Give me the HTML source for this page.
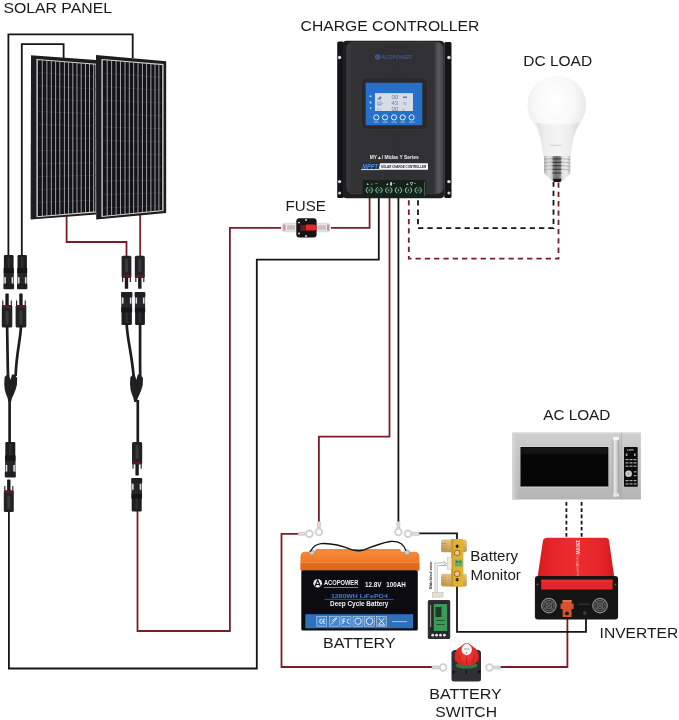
<!DOCTYPE html>
<html><head><meta charset="utf-8">
<style>
html,body{margin:0;padding:0;background:#fff;}
body{width:679px;height:720px;overflow:hidden;position:relative;font-family:"Liberation Sans",sans-serif;}
svg{position:absolute;left:0;top:0;display:block;will-change:transform;}
</style></head><body>
<svg width="679" height="720" viewBox="0 0 679 720">
<g fill="none" stroke-width="1.8" stroke-linejoin="miter">
  <path d="M8.4 256 V34.3 H132.7 V58" stroke="#151515"/>
  <path d="M21.8 256 V44.1 H63.6 V58" stroke="#151515"/>
  <path d="M66.6 216 V242 H126.5 V257" stroke="#781e26"/>
  <path d="M140.2 213 V257" stroke="#781e26"/>
  <path d="M8.9 510 V668.5 H256.8 V259.7 H378.8 V197" stroke="#151515"/>
  <path d="M137.5 510 V631 H229.9 V227.8 H281"  stroke="#781e26"/>
  <path d="M331 227.8 H369.6 V197" stroke="#781e26"/>
  <path d="M389.5 197 V436.7 H318.9 V522" stroke="#781e26"/>
  <path d="M398.4 197 V522" stroke="#151515"/>
  <path d="M298.5 533.8 H281.5 V667 H433" stroke="#781e26"/>
  <path d="M500 667 H567.4 V616" stroke="#781e26"/>
  <path d="M419 533.4 H457 V540" stroke="#151515"/>
  <path d="M457 584 V631.8 H586 V616" stroke="#151515"/>
  <path d="M418 200.3 V228.1 H553.5 V182" stroke="#151515" stroke-dasharray="5.3 4"/>
  <path d="M408.8 200.3 V258.7 H558.5 V182" stroke="#781e26" stroke-dasharray="5.3 4"/>
  <path d="M566.4 502.1 V537" stroke="#2a1214" stroke-dasharray="3.7 2.5"/>
  <path d="M581.6 502.1 V537" stroke="#111" stroke-dasharray="3.7 2.5"/>
</g>
<polygon points="31,55.2 96,60 96,214.5 30.6,219.4" fill="#1d1d1f"/>
<clipPath id="cp1"><polygon points="37,59.5 96,64.3 96,211.9 37,216.7"/></clipPath>
<polygon points="37,59.5 96,64.3 96,211.9 37,216.7" fill="#131317" stroke="#d4d4d4" stroke-width="1.1"/>
<g clip-path="url(#cp1)">
<line x1="37" y1="72.5" x2="96" y2="76.6" stroke="#34343a" stroke-width="0.6"/><line x1="37" y1="85.5" x2="96" y2="89.0" stroke="#34343a" stroke-width="0.6"/><line x1="37" y1="98.5" x2="96" y2="101.3" stroke="#34343a" stroke-width="0.6"/><line x1="37" y1="111.5" x2="96" y2="113.7" stroke="#34343a" stroke-width="0.6"/><line x1="37" y1="124.5" x2="96" y2="126.0" stroke="#34343a" stroke-width="0.6"/><line x1="37" y1="137.5" x2="96" y2="138.4" stroke="#34343a" stroke-width="0.6"/><line x1="37" y1="150.5" x2="96" y2="150.8" stroke="#34343a" stroke-width="0.6"/><line x1="37" y1="163.5" x2="96" y2="163.1" stroke="#34343a" stroke-width="0.6"/><line x1="37" y1="176.5" x2="96" y2="175.4" stroke="#34343a" stroke-width="0.6"/><line x1="37" y1="189.5" x2="96" y2="187.8" stroke="#34343a" stroke-width="0.6"/><line x1="37" y1="202.5" x2="96" y2="200.1" stroke="#34343a" stroke-width="0.6"/>
<g stroke="#b0b0b4" stroke-width="0.9"><line x1="37.5" y1="50" x2="37.5" y2="225"/><line x1="42.3" y1="50" x2="42.3" y2="225"/><line x1="46.9" y1="50" x2="46.9" y2="225"/><line x1="51.3" y1="50" x2="51.3" y2="225"/><line x1="55.6" y1="50" x2="55.6" y2="225"/><line x1="59.8" y1="50" x2="59.8" y2="225"/><line x1="64.4" y1="50" x2="64.4" y2="225"/><line x1="68.6" y1="50" x2="68.6" y2="225"/><line x1="72.8" y1="50" x2="72.8" y2="225"/><line x1="77.0" y1="50" x2="77.0" y2="225"/><line x1="81.2" y1="50" x2="81.2" y2="225"/><line x1="85.5" y1="50" x2="85.5" y2="225"/><line x1="89.5" y1="50" x2="89.5" y2="225"/><line x1="93.7" y1="50" x2="93.7" y2="225"/></g>
</g>

<polygon points="96,55 166.2,61.2 166.2,213 96.2,219.4" fill="#1d1d1f"/>
<clipPath id="cp2"><polygon points="102,59.5 163,64.6 163,210.5 102,216.5"/></clipPath>
<polygon points="102,59.5 163,64.6 163,210.5 102,216.5" fill="#131317" stroke="#d4d4d4" stroke-width="1.1"/>
<g clip-path="url(#cp2)">
<line x1="102" y1="73.0" x2="163" y2="77.4" stroke="#34343a" stroke-width="0.6"/><line x1="102" y1="86.5" x2="163" y2="90.2" stroke="#34343a" stroke-width="0.6"/><line x1="102" y1="100.0" x2="163" y2="103.1" stroke="#34343a" stroke-width="0.6"/><line x1="102" y1="113.5" x2="163" y2="115.9" stroke="#34343a" stroke-width="0.6"/><line x1="102" y1="127.0" x2="163" y2="128.7" stroke="#34343a" stroke-width="0.6"/><line x1="102" y1="140.5" x2="163" y2="141.6" stroke="#34343a" stroke-width="0.6"/><line x1="102" y1="154.0" x2="163" y2="154.4" stroke="#34343a" stroke-width="0.6"/><line x1="102" y1="167.5" x2="163" y2="167.2" stroke="#34343a" stroke-width="0.6"/><line x1="102" y1="181.0" x2="163" y2="180.0" stroke="#34343a" stroke-width="0.6"/><line x1="102" y1="194.5" x2="163" y2="192.8" stroke="#34343a" stroke-width="0.6"/><line x1="102" y1="208.0" x2="163" y2="205.7" stroke="#34343a" stroke-width="0.6"/>
<g stroke="#b0b0b4" stroke-width="0.9"><line x1="102.4" y1="50" x2="102.4" y2="225"/><line x1="107.2" y1="50" x2="107.2" y2="225"/><line x1="111.6" y1="50" x2="111.6" y2="225"/><line x1="116.1" y1="50" x2="116.1" y2="225"/><line x1="120.5" y1="50" x2="120.5" y2="225"/><line x1="125.0" y1="50" x2="125.0" y2="225"/><line x1="129.3" y1="50" x2="129.3" y2="225"/><line x1="133.7" y1="50" x2="133.7" y2="225"/><line x1="138.0" y1="50" x2="138.0" y2="225"/><line x1="142.4" y1="50" x2="142.4" y2="225"/><line x1="146.6" y1="50" x2="146.6" y2="225"/><line x1="150.9" y1="50" x2="150.9" y2="225"/><line x1="155.0" y1="50" x2="155.0" y2="225"/><line x1="158.9" y1="50" x2="158.9" y2="225"/><line x1="162.5" y1="50" x2="162.5" y2="225"/></g>
</g>

<g><rect x="3.90" y="255.00" width="9.70" height="19.61" rx="1.2" fill="#1d1d1f"/><rect x="7.55" y="257.00" width="2.4" height="15.09" fill="#2e2e30"/><rect x="3.60" y="268.08" width="10.30" height="5.03" fill="#151517"/><rect x="3.70" y="273.11" width="10.10" height="11.06" fill="#262628"/><rect x="4.30" y="277.13" width="1.6" height="6.54" fill="#dcdcdc"/><rect x="11.60" y="277.13" width="1.6" height="6.54" fill="#dcdcdc"/><rect x="3.40" y="283.67" width="10.70" height="5.53" rx="1" fill="#1f1f21"/><rect x="17.50" y="255.00" width="9.40" height="19.61" rx="1.2" fill="#1d1d1f"/><rect x="21.00" y="257.00" width="2.4" height="15.09" fill="#2e2e30"/><rect x="17.20" y="268.08" width="10.00" height="5.03" fill="#151517"/><rect x="17.30" y="273.11" width="9.80" height="11.06" fill="#262628"/><rect x="17.90" y="277.13" width="1.6" height="6.54" fill="#dcdcdc"/><rect x="24.90" y="277.13" width="1.6" height="6.54" fill="#dcdcdc"/><rect x="17.00" y="283.67" width="10.40" height="5.53" rx="1" fill="#1f1f21"/><rect x="5.35" y="293.50" width="3.4" height="13.00" rx="0.6" fill="#1b1b1d"/><rect x="2.20" y="300.50" width="1.2" height="7.00" fill="#2a2a2a"/><rect x="10.70" y="300.50" width="1.2" height="7.00" fill="#2a2a2a"/><rect x="1.80" y="305.00" width="10.50" height="22.50" rx="1.5" fill="#222224"/><rect x="2.60" y="305.00" width="8.90" height="3.00" fill="#5a1a28"/><rect x="5.55" y="310.50" width="3" height="14.00" fill="#39393b"/><rect x="19.25" y="293.50" width="3.4" height="13.00" rx="0.6" fill="#1b1b1d"/><rect x="16.00" y="300.50" width="1.2" height="7.00" fill="#2a2a2a"/><rect x="24.70" y="300.50" width="1.2" height="7.00" fill="#2a2a2a"/><rect x="15.60" y="305.00" width="10.70" height="22.50" rx="1.5" fill="#222224"/><rect x="16.40" y="305.00" width="9.10" height="3.00" fill="#5a1a28"/><rect x="19.45" y="310.50" width="3" height="14.00" fill="#39393b"/><g transform="translate(0,544.6) scale(1,-1)"><rect x="124.80" y="255.80" width="3.4" height="12.62" rx="0.6" fill="#1b1b1d"/><rect x="122.00" y="262.59" width="1.2" height="6.79" fill="#2a2a2a"/><rect x="129.80" y="262.59" width="1.2" height="6.79" fill="#2a2a2a"/><rect x="121.60" y="266.96" width="9.80" height="21.84" rx="1.5" fill="#222224"/><rect x="122.40" y="266.96" width="8.20" height="2.91" fill="#5a1a28"/><rect x="125.00" y="272.30" width="3" height="13.59" fill="#39393b"/></g><g transform="translate(0,544.6) scale(1,-1)"><rect x="138.10" y="255.80" width="3.4" height="12.62" rx="0.6" fill="#1b1b1d"/><rect x="135.20" y="262.59" width="1.2" height="6.79" fill="#2a2a2a"/><rect x="143.20" y="262.59" width="1.2" height="6.79" fill="#2a2a2a"/><rect x="134.80" y="266.96" width="10.00" height="21.84" rx="1.5" fill="#222224"/><rect x="135.60" y="266.96" width="8.40" height="2.91" fill="#5a1a28"/><rect x="138.30" y="272.30" width="3" height="13.59" fill="#39393b"/></g><g transform="translate(0,617) scale(1,-1)"><rect x="121.50" y="292.00" width="10.40" height="18.93" rx="1.2" fill="#1d1d1f"/><rect x="125.50" y="294.00" width="2.4" height="14.56" fill="#2e2e30"/><rect x="121.20" y="304.62" width="11.00" height="4.85" fill="#151517"/><rect x="121.30" y="309.47" width="10.80" height="10.68" fill="#262628"/><rect x="121.90" y="313.35" width="1.6" height="6.31" fill="#dcdcdc"/><rect x="129.90" y="313.35" width="1.6" height="6.31" fill="#dcdcdc"/><rect x="121.00" y="319.66" width="11.40" height="5.34" rx="1" fill="#1f1f21"/></g><g transform="translate(0,617) scale(1,-1)"><rect x="135.10" y="292.00" width="9.80" height="18.93" rx="1.2" fill="#1d1d1f"/><rect x="138.80" y="294.00" width="2.4" height="14.56" fill="#2e2e30"/><rect x="134.80" y="304.62" width="10.40" height="4.85" fill="#151517"/><rect x="134.90" y="309.47" width="10.20" height="10.68" fill="#262628"/><rect x="135.50" y="313.35" width="1.6" height="6.31" fill="#dcdcdc"/><rect x="142.90" y="313.35" width="1.6" height="6.31" fill="#dcdcdc"/><rect x="134.60" y="319.66" width="10.80" height="5.34" rx="1" fill="#1f1f21"/></g></g>
<g fill="none" stroke="#1c1c1e" stroke-width="2.7">
<path d="M7.1 326 C7.3 345 7.6 360 8 376"/><path d="M21 326 C20.5 340 16.5 352 15.6 376"/>
<path d="M9.6 400 V443"/>
<path d="M126.7 324 C127.3 340 131.5 352 133.6 376"/><path d="M140.1 324 C140.1 345 140 362 140.2 376"/>
<path d="M137.8 400 V443"/>
</g>
<g fill="#202022">
<path d="M4.6 377 L7.2 374.5 L9 374.5 L10.5 380 L12 374.5 L14.5 374.5 L17.2 378 Q17.5 385 15.5 390 Q13.5 395 12 398 L11 402 H8.4 L7.6 398 Q5.8 394 4.8 390 Q3.8 384 4.6 377Z"/>
<path d="M130.4 377 L133.0 374.5 L134.8 374.5 L136.3 380 L137.8 374.5 L140.3 374.5 L143.0 378 Q143.3 385 141.3 390 Q139.3 395 137.8 398 L136.8 402 H134.2 L133.4 398 Q131.6 394 130.6 390 Q129.6 384 130.4 377Z"/>
</g>
<g><rect x="5.30" y="441.90" width="10.00" height="20.42" rx="1.2" fill="#1d1d1f"/><rect x="9.10" y="443.90" width="2.4" height="15.71" fill="#2e2e30"/><rect x="5.00" y="455.51" width="10.60" height="5.24" fill="#151517"/><rect x="5.10" y="460.75" width="10.40" height="11.52" fill="#262628"/><rect x="5.70" y="464.94" width="1.6" height="6.81" fill="#dcdcdc"/><rect x="13.30" y="464.94" width="1.6" height="6.81" fill="#dcdcdc"/><rect x="4.80" y="471.74" width="11.00" height="5.76" rx="1" fill="#1f1f21"/><rect x="7.10" y="479.40" width="3.4" height="12.46" rx="0.6" fill="#1b1b1d"/><rect x="4.20" y="486.11" width="1.2" height="6.71" fill="#2a2a2a"/><rect x="12.20" y="486.11" width="1.2" height="6.71" fill="#2a2a2a"/><rect x="3.80" y="490.43" width="10.00" height="21.57" rx="1.5" fill="#222224"/><rect x="4.60" y="490.43" width="8.40" height="2.88" fill="#5a1a28"/><rect x="7.30" y="495.70" width="3" height="13.42" fill="#39393b"/><g transform="translate(0,917.6) scale(1,-1)"><rect x="135.40" y="442.00" width="3.4" height="12.85" rx="0.6" fill="#1b1b1d"/><rect x="132.40" y="448.92" width="1.2" height="6.92" fill="#2a2a2a"/><rect x="140.60" y="448.92" width="1.2" height="6.92" fill="#2a2a2a"/><rect x="132.00" y="453.36" width="10.20" height="22.24" rx="1.5" fill="#222224"/><rect x="132.80" y="453.36" width="8.60" height="2.96" fill="#5a1a28"/><rect x="135.60" y="458.80" width="3" height="13.84" fill="#39393b"/></g><g transform="translate(0,989.5) scale(1,-1)"><rect x="131.70" y="478.00" width="10.00" height="19.21" rx="1.2" fill="#1d1d1f"/><rect x="135.50" y="480.00" width="2.4" height="14.78" fill="#2e2e30"/><rect x="131.40" y="490.81" width="10.60" height="4.93" fill="#151517"/><rect x="131.50" y="495.74" width="10.40" height="10.84" fill="#262628"/><rect x="132.10" y="499.68" width="1.6" height="6.40" fill="#dcdcdc"/><rect x="139.70" y="499.68" width="1.6" height="6.40" fill="#dcdcdc"/><rect x="131.20" y="506.08" width="11.00" height="5.42" rx="1" fill="#1f1f21"/></g></g>
<g>
<defs>
<linearGradient id="ccface" x1="0" y1="0" x2="1" y2="0">
<stop offset="0" stop-color="#3a3a3c"/><stop offset="0.06" stop-color="#333335"/><stop offset="0.5" stop-color="#303032"/><stop offset="0.9" stop-color="#323234"/><stop offset="0.95" stop-color="#5a5a5c"/><stop offset="1" stop-color="#444446"/>
</linearGradient>
</defs>
<rect x="337.2" y="41.6" width="6.6" height="156.4" rx="1.5" fill="#141416"/>
<rect x="444.2" y="41.9" width="7.3" height="156" rx="1.5" fill="#141416"/>
<circle cx="339.6" cy="57.5" r="1.7" fill="#d8d8d8"/><circle cx="448.9" cy="57.5" r="1.7" fill="#d8d8d8"/>
<circle cx="339.6" cy="181.6" r="1.7" fill="#d8d8d8"/><circle cx="448.9" cy="181.6" r="1.7" fill="#d8d8d8"/>
<circle cx="339.6" cy="193.1" r="1.5" fill="#d0d0d0"/><circle cx="448.9" cy="193.1" r="1.5" fill="#d0d0d0"/>
<rect x="342.6" y="40.7" width="101.6" height="157.6" rx="4" fill="#1e1e20"/>
<rect x="346.8" y="42.3" width="96.4" height="151.5" rx="6" fill="url(#ccface)" stroke="#48484a" stroke-width="0.6"/>
<circle cx="377.6" cy="56.9" r="2.6" fill="#3a66b8"/><path d="M376.3 58.6 L377.6 55.2 L378.9 58.6" stroke="#2e2e30" stroke-width="0.7" fill="none"/><text x="381.5" y="59" font-family="Liberation Sans" font-size="5.4" fill="#3a66b8" textLength="30.4" lengthAdjust="spacingAndGlyphs">ACOPOWER</text>
<rect x="361.3" y="77.3" width="66.4" height="52.3" rx="6" fill="#29292b" stroke="#3e3e40" stroke-width="0.6"/>
<rect x="365.6" y="82.7" width="56.7" height="42.5" rx="0.8" fill="#2571c9"/>
<rect x="374.9" y="93.1" width="38.1" height="17.9" fill="#d6dbe6"/>
<g fill="#6a78a8" font-family="Liberation Sans" font-size="5.2">
<text x="376.5" y="98.5">&#9698;-</text><text x="376.5" y="104.8">&#9636;-</text><text x="376.5" y="110.6">&#9675;-</text>
<text x="391.5" y="98.7" font-size="6">00</text><text x="391.5" y="105" font-size="6">43</text><text x="391.5" y="110.9" font-size="6">00</text>
<rect x="403" y="96.5" width="4" height="1.5"/><text x="403" y="105" font-size="4">%</text><text x="402.5" y="110.5" font-size="4">v</text>
</g>
<g fill="none" stroke="#f2f6ff" stroke-width="0.95">
<circle cx="376.3" cy="117.4" r="2.6"/><circle cx="385" cy="117.4" r="2.6"/><circle cx="394" cy="117.4" r="2.6"/><circle cx="402.7" cy="117.4" r="2.6"/><circle cx="411.6" cy="117.4" r="2.6"/>
</g>
<g fill="#c0d2f0"><rect x="374" y="121.7" width="4.5" height="0.7"/><rect x="382.5" y="121.7" width="5.5" height="0.7"/><rect x="391.5" y="121.7" width="5.5" height="0.7"/><rect x="400.5" y="121.7" width="4.5" height="0.7"/><rect x="409" y="121.7" width="5.5" height="0.7"/>
<rect x="369.5" y="95.5" width="2" height="1.5"/><rect x="369.5" y="101.5" width="2" height="2"/><path d="M369.3 107.5 h2.6 l-1.3 2z"/></g>
<text x="369.7" y="159.2" font-family="Liberation Sans" font-size="4.6" font-weight="bold" fill="#ececec" textLength="49" lengthAdjust="spacingAndGlyphs">MY&#9650;/ Midas Y Series</text>
<polygon points="361.8,163.3 379.5,163.3 378.7,169.1 361.2,169.1" fill="#1b2f52"/>
<text x="362.3" y="168.7" font-family="Liberation Sans" font-size="6.4" font-weight="bold" font-style="italic" fill="#4f8fe0" textLength="15.8" lengthAdjust="spacingAndGlyphs">MPPT</text>
<rect x="361.2" y="169.1" width="17.8" height="1" fill="#dfe6f2"/>
<polygon points="380,163.3 428,163.3 428,169.7 378.7,169.7" fill="#f6f6f6"/>
<text x="381" y="167.9" font-family="Liberation Sans" font-size="3.5" font-weight="bold" fill="#1a1a1a" textLength="45" lengthAdjust="spacingAndGlyphs">SOLAR CHARGE CONTROLLER</text>
<rect x="362.7" y="180" width="63" height="18" rx="2" fill="#13231a"/><rect x="424.2" y="182" width="0.8" height="14" fill="#5a6a60"/>
<g fill="#e4e4e4" font-family="Liberation Sans" font-size="4.2" font-weight="bold">
<text x="366.6" y="185.2">+ &#9788; &#8211;</text><text x="386" y="185.2">+ &#9646; &#8211;</text><text x="406" y="185.2">+ &#9661; &#8211;</text>
</g>
<g fill="#1c3526"><circle cx="369.3" cy="190.2" r="3.2"/><circle cx="379" cy="190.2" r="3.2"/><circle cx="388.8" cy="190.2" r="3.2"/><circle cx="398.5" cy="190.2" r="3.2"/><circle cx="408.5" cy="190.2" r="3.2"/><circle cx="418.2" cy="190.2" r="3.2"/></g>
<g fill="none" stroke="#8fc0a2" stroke-width="1"><path d="M368.0 187.4 A3 3 0 0 0 368.0 193 M370.6 187.4 A3 3 0 0 1 370.6 193"/><path d="M377.7 187.4 A3 3 0 0 0 377.7 193 M380.3 187.4 A3 3 0 0 1 380.3 193"/><path d="M387.5 187.4 A3 3 0 0 0 387.5 193 M390.1 187.4 A3 3 0 0 1 390.1 193"/><path d="M397.2 187.4 A3 3 0 0 0 397.2 193 M399.8 187.4 A3 3 0 0 1 399.8 193"/><path d="M407.2 187.4 A3 3 0 0 0 407.2 193 M409.8 187.4 A3 3 0 0 1 409.8 193"/><path d="M416.9 187.4 A3 3 0 0 0 416.9 193 M419.5 187.4 A3 3 0 0 1 419.5 193"/></g>
<g fill="#c0e0cc"><circle cx="369.3" cy="190.2" r="0.6"/><circle cx="379" cy="190.2" r="0.6"/><circle cx="388.8" cy="190.2" r="0.6"/><circle cx="398.5" cy="190.2" r="0.6"/><circle cx="408.5" cy="190.2" r="0.6"/><circle cx="418.2" cy="190.2" r="0.6"/></g>
</g>
<g>
<rect x="282.2" y="223.2" width="15" height="8.6" rx="2.5" fill="#ebe6e7" stroke="#c9bfc2" stroke-width="0.5"/>
<rect x="315.8" y="223.2" width="14.2" height="8.6" rx="2.5" fill="#ebe6e7" stroke="#c9bfc2" stroke-width="0.5"/>
<rect x="283.2" y="224.5" width="2.2" height="6" fill="#c98f99"/><rect x="327" y="224.5" width="2.2" height="6" fill="#c98f99"/>
<rect x="287" y="225.2" width="8" height="4.6" fill="#b9b0b2" opacity="0.7"/>
<rect x="318" y="225.2" width="8" height="4.6" fill="#b9b0b2" opacity="0.7"/>
<rect x="296.3" y="218.2" width="20.3" height="19.4" rx="3" fill="#151515"/>
<path d="M300.5 225 H306 V231 H300.5Z" fill="#6a1a1e"/>
<path d="M306 224.4 h7 q4 0 4 3.1 q0 3.1 -4 3.1 h-7z" fill="#e22a2c"/>
<circle cx="299" cy="222.6" r="0.9" fill="#eee"/><circle cx="306" cy="220" r="0.9" fill="#eee"/>
<circle cx="299" cy="233.5" r="0.9" fill="#eee"/><circle cx="306" cy="236" r="0.9" fill="#eee"/>
</g>
<g>
<defs>
<radialGradient id="bulbg" cx="0.46" cy="0.32" r="0.62">
<stop offset="0" stop-color="#ffffff"/><stop offset="0.55" stop-color="#f8f8f8"/><stop offset="0.85" stop-color="#ebebeb"/><stop offset="1" stop-color="#d9d9db"/>
</radialGradient>
<linearGradient id="neckg" x1="0" y1="0" x2="1" y2="0">
<stop offset="0" stop-color="#dcdcdc"/><stop offset="0.2" stop-color="#eeeeee"/><stop offset="0.5" stop-color="#f4f4f4"/><stop offset="0.8" stop-color="#ececec"/><stop offset="1" stop-color="#d6d6d6"/>
</linearGradient>
<linearGradient id="screwg" x1="0" y1="0" x2="1" y2="0">
<stop offset="0" stop-color="#b4b4b4"/><stop offset="0.18" stop-color="#e6e6e6"/><stop offset="0.3" stop-color="#d0d0d0"/><stop offset="0.36" stop-color="#8a8a8a"/><stop offset="0.46" stop-color="#707070"/><stop offset="0.62" stop-color="#8a8a8a"/><stop offset="0.68" stop-color="#dedede"/><stop offset="0.85" stop-color="#eeeeee"/><stop offset="1" stop-color="#bcbcbc"/>
</linearGradient>
</defs>
<path d="M543.3 156 C542.5 141 537.5 129 531.3 119.5 A29.3 29.3 0 1 1 582.2 119.5 C576 129 571.2 141 570.8 156 Z" fill="url(#bulbg)"/>
<path d="M536 122.7 C550 125.5 566 125.5 579.8 122.7 C575 131 571.2 142 570.8 156 L543.3 156 C542.5 142 540 131 536 122.7Z" fill="url(#neckg)"/>
<rect x="549.5" y="144.8" width="12" height="0.9" fill="#cdcdcd"/>
<path d="M544 156 H570.3 V173 Q566 178.5 562 181.5 H553.2 Q549 178.5 544 173 Z" fill="url(#screwg)"/>
<g stroke="#2a2a2a" stroke-width="1.1" opacity="0.85">
<line x1="552.5" y1="158.9" x2="561.5" y2="158.9"/><line x1="552.5" y1="162.3" x2="561.5" y2="162.3"/><line x1="552.5" y1="165.8" x2="561.5" y2="165.8"/><line x1="552.5" y1="169.3" x2="561.5" y2="169.3"/><line x1="552.5" y1="173" x2="561.5" y2="173"/>
</g>
<g stroke="#9a9a9a" stroke-width="0.8" opacity="0.8">
<line x1="544" y1="159.3" x2="552" y2="158.6"/><line x1="544" y1="162.8" x2="552" y2="162"/><line x1="544" y1="166.3" x2="552" y2="165.5"/><line x1="544" y1="169.8" x2="552" y2="169"/>
<line x1="562" y1="158.6" x2="570.3" y2="159.6"/><line x1="562" y1="162" x2="570.3" y2="163"/><line x1="562" y1="165.5" x2="570.3" y2="166.5"/><line x1="562" y1="169" x2="570.3" y2="170"/>
</g>
<path d="M553 178.8 H561.5 L560.5 182 H554Z" fill="#161616"/>
</g>
<g>
<defs>
<linearGradient id="mwg" x1="0" y1="0" x2="0" y2="1">
<stop offset="0" stop-color="#d0d0d0"/><stop offset="0.25" stop-color="#c6c6c6"/><stop offset="0.75" stop-color="#bcbcbc"/><stop offset="1" stop-color="#b4b4b4"/>
</linearGradient>
<linearGradient id="mwl" x1="0" y1="0" x2="1" y2="0">
<stop offset="0" stop-color="#dadada"/><stop offset="1" stop-color="#c2c2c2" stop-opacity="0"/>
</linearGradient>
<linearGradient id="mwh" x1="0" y1="0" x2="1" y2="0">
<stop offset="0" stop-color="#a0a0a0"/><stop offset="0.25" stop-color="#e8e8e8"/><stop offset="0.6" stop-color="#d2d2d2"/><stop offset="1" stop-color="#9a9a9a"/>
</linearGradient>
</defs>
<rect x="512" y="432.5" width="128.9" height="67" fill="url(#mwg)"/>
<rect x="512" y="432.5" width="8" height="67" fill="url(#mwl)"/>
<rect x="512" y="432.5" width="128.9" height="0.8" fill="#e0e0e0"/>
<rect x="519.5" y="446" width="89.8" height="0.9" fill="#ececec"/>
<rect x="520.5" y="446.9" width="87.8" height="39.8" fill="#060607"/>
<rect x="521.3" y="447.6" width="86.2" height="6.5" fill="#141416"/>
<rect x="520.5" y="486.7" width="87.8" height="0.8" fill="#d6d6d6"/>
<rect x="612.6" y="437" width="6.7" height="59.4" rx="1" fill="url(#mwh)"/>
<rect x="612.9" y="437" width="6.1" height="3.2" fill="#f6f6f6"/>
<rect x="612.9" y="493.5" width="6.1" height="2.9" fill="#e6e6e6"/>
<line x1="621.3" y1="432.5" x2="621.3" y2="499.5" stroke="#a4a4a4" stroke-width="0.6"/>
<rect x="624" y="447" width="13.7" height="39.8" rx="0.8" fill="#0c0c0c"/>
<g fill="#a8a8a8">
<rect x="628.5" y="449.3" width="5" height="1.2"/><rect x="627" y="449.6" width="1" height="1" fill="#ddd"/>
<rect x="625.8" y="453.5" width="1.6" height="2.5"/><rect x="634" y="453.5" width="1.6" height="2.5"/>
<rect x="625.5" y="459" width="3" height="1.2"/><rect x="629.5" y="459" width="3" height="1.2"/><rect x="633.5" y="459" width="3" height="1.2"/>
<rect x="625.5" y="462.3" width="3" height="1.2"/><rect x="629.5" y="462.3" width="3" height="1.2"/><rect x="633.5" y="462.3" width="3" height="1.2"/>
<rect x="625.5" y="465.6" width="3" height="1.2"/><rect x="629.5" y="465.6" width="3" height="1.2"/><rect x="633.5" y="465.6" width="3" height="1.2"/>
<rect x="633.8" y="471.2" width="2.6" height="1.2"/><rect x="633.8" y="475" width="2.6" height="1.2"/>
<rect x="625.5" y="480" width="3" height="1.2"/><rect x="629.5" y="480" width="3" height="1.2"/><rect x="633.5" y="480" width="3" height="1.2"/>
<rect x="625.5" y="483.3" width="3" height="1.2"/><rect x="629.5" y="483.3" width="3" height="1.2"/><rect x="633.5" y="483.3" width="3" height="1.2"/>
</g>
<circle cx="628.6" cy="473.8" r="3.3" fill="#cfcfcf"/><circle cx="628.6" cy="473.8" r="1.8" fill="#b4b4b4"/>
</g>
<g>
<defs>
<linearGradient id="invt" x1="0" y1="0" x2="1" y2="0">
<stop offset="0" stop-color="#d41c20"/><stop offset="0.15" stop-color="#e42428"/><stop offset="0.5" stop-color="#ee2c2e"/><stop offset="0.85" stop-color="#e42428"/><stop offset="1" stop-color="#cc1a1e"/>
</linearGradient>
<radialGradient id="fang" cx="0.5" cy="0.5" r="0.5">
<stop offset="0" stop-color="#3a3a3a"/><stop offset="0.8" stop-color="#2a2a2a"/><stop offset="1" stop-color="#555"/>
</radialGradient>
</defs>
<path d="M547.5 537.7 H605.5 Q608.4 537.7 609 540.5 L614.2 576.5 H537.6 L543 540.5 Q543.8 537.7 547.5 537.7Z" fill="url(#invt)"/>
<g transform="translate(576.2,540) rotate(90)">
<text x="0" y="0" font-family="Liberation Sans" font-size="4.6" font-weight="bold" fill="#f6e6e6">1500W</text>
<text x="13" y="-0.3" font-family="Liberation Sans" font-size="2.6" fill="#f0c8c8" textLength="23" lengthAdjust="spacingAndGlyphs">PURE SINE WAVE INVERTER</text>
</g>
<rect x="534.9" y="576" width="83.2" height="43.5" rx="3" fill="#151515"/>
<rect x="540" y="578.8" width="73.6" height="11.5" rx="0.8" fill="#2a0e0e"/>
<rect x="541.2" y="579.7" width="71.4" height="9.8" fill="#e4262b"/>
<rect x="541.2" y="579.7" width="71.4" height="2" fill="#f03a3a" opacity="0.6"/>
<circle cx="537.5" cy="584.5" r="0.9" fill="#666"/><circle cx="615.5" cy="584.5" r="0.9" fill="#666"/>
<g fill="url(#fang)" stroke="#a8a8a8" stroke-width="0.9">
<circle cx="548.9" cy="605.6" r="7.3"/><circle cx="600" cy="605.6" r="7.3"/>
</g>
<g fill="none" stroke="#8c8c8c" stroke-width="0.6">
<circle cx="548.9" cy="605.6" r="5.2"/><circle cx="600" cy="605.6" r="5.2"/>
<circle cx="548.9" cy="605.6" r="3"/><circle cx="600" cy="605.6" r="3"/>
<path d="M544 600.7 L553.8 610.5 M544 610.5 L553.8 600.7 M595.1 600.7 L604.9 610.5 M595.1 610.5 L604.9 600.7"/>
</g>
<path d="M562.6 600 H571.6 V603.5 H573.6 V609 H571.6 V617 H562.6 V609 H560.6 V603.5 H562.6Z" fill="#d4532f"/>
<rect x="562.6" y="600" width="9" height="2" fill="#e0704a"/>
<circle cx="567" cy="613.4" r="1.9" fill="#2a1408"/>
<rect x="578.5" y="603.5" width="11" height="1.6" fill="#333"/>
<rect x="583" y="611" width="3.5" height="4" fill="#2c2c2c"/>
<circle cx="584.6" cy="613.3" r="0.9" fill="#555"/>
</g>
<g>
<defs>
<linearGradient id="batg" x1="0" y1="0" x2="0" y2="1">
<stop offset="0" stop-color="#f58a3c"/><stop offset="0.5" stop-color="#f07a2a"/><stop offset="1" stop-color="#e86f22"/>
</linearGradient>
</defs>
<path d="M314 553 L316 548.9 H400 L402 553Z" fill="#f4863a"/>
<path d="M300.5 570.5 V556 Q301 551.8 305 551.8 H415 Q418.5 551.8 419.3 556 V570.5Z" fill="url(#batg)"/>
<rect x="300.7" y="562.3" width="118.7" height="8" fill="#e2681c"/>
<rect x="300.7" y="562.3" width="118.7" height="0.8" fill="#f39050"/>
<circle cx="311.8" cy="552.4" r="2.6" fill="#cfcfcf" stroke="#777" stroke-width="0.5"/><circle cx="407" cy="552.4" r="2.6" fill="#cfcfcf" stroke="#777" stroke-width="0.5"/>
<path d="M310.3 551.8 C313 546 316 544.2 321 543.6 C330 543 340 545 352.4 549.9 C357 551 361 551 364 549.9 C371 547 381 543 390 541.5 C398 540.8 404 544 406 550.8" fill="none" stroke="#141414" stroke-width="1.3"/>
<rect x="301.3" y="570.2" width="116.5" height="60.3" rx="1.5" fill="#0c0c10"/>
<circle cx="317.7" cy="583.3" r="4.3" fill="#eeeeee"/>
<path d="M315 586.5 L317.7 579.8 L320.4 586.5 M316 584.5 H319.4" stroke="#111" stroke-width="1.2" fill="none"/>
<text x="323.9" y="585.2" font-family="Liberation Sans" font-size="6.6" font-weight="bold" fill="#f2f2f2" textLength="34.4" lengthAdjust="spacingAndGlyphs">ACOPOWER</text>
<rect x="324" y="587" width="34.3" height="0.8" fill="#9a9a9a"/>
<text x="365" y="587" font-family="Liberation Sans" font-size="7.8" font-weight="bold" fill="#f4f4f4" textLength="16.5" lengthAdjust="spacingAndGlyphs">12.8V</text><text x="386.3" y="587" font-family="Liberation Sans" font-size="7.8" font-weight="bold" fill="#f4f4f4" textLength="19.4" lengthAdjust="spacingAndGlyphs">100AH</text>
<text x="330.9" y="598.4" font-family="Liberation Sans" font-size="6.2" font-weight="bold" fill="#3f80d4" textLength="56.9" lengthAdjust="spacingAndGlyphs">1280WH LiFePO4</text>
<rect x="324.7" y="598.9" width="69" height="0.7" fill="#3a78c8"/>
<text x="330" y="605.5" font-family="Liberation Sans" font-size="7" font-weight="bold" fill="#f4f4f4" textLength="58.4" lengthAdjust="spacingAndGlyphs">Deep Cycle Battery</text>
<rect x="305.3" y="614.2" width="107.8" height="14.1" fill="#2f70bb"/>
<g fill="#4387d0" stroke="#dfe9f6" stroke-width="0.5">
<rect x="316.8" y="616.3" width="10" height="9.9"/><rect x="329.2" y="616.3" width="10" height="9.9"/><rect x="341" y="616.3" width="10" height="9.9"/>
<rect x="353" y="616.3" width="10" height="9.9"/><rect x="364.5" y="616.3" width="10" height="9.9"/><rect x="376.4" y="616.3" width="10" height="9.9"/>
</g>
<g fill="none" stroke="#f2f6fc" stroke-width="0.9">
<path d="M322 619 a2.3 2.3 0 1 0 0 4.6 M325 619 a2.3 2.3 0 1 0 0 4.6 M322.7 621.3 h2"/>
<path d="M331 624.5 L337 618 M332 621 q3 -3 5 -3"/>
<path d="M345.5 619 h-2.5 v5 M343 621.3 h2 M349.5 619 a2.3 2.3 0 1 0 0 4.6"/>
<circle cx="358" cy="621.2" r="3.2"/>
<circle cx="369.5" cy="621.2" r="3.4"/>
<path d="M378.5 618 l6 6.5 M384.5 618 l-6 6.5 M378.5 625 h6"/>
</g>
<rect x="392" y="621.3" width="15" height="0.8" fill="#c6d6ee"/>
</g>
<g><rect x="317.4" y="521.5" width="3" height="6.5" rx="0.6" fill="#dedede" stroke="#9a9a9a" stroke-width="0.4"/><circle cx="318.9" cy="532" r="3.3" fill="none" stroke="#d0d0d0" stroke-width="1.8"/><rect x="298.2" y="532.3" width="7" height="3" rx="0.6" fill="#dedede" stroke="#9a9a9a" stroke-width="0.4"/><circle cx="309.4" cy="533.8" r="3.3" fill="none" stroke="#d0d0d0" stroke-width="1.8"/><rect x="396.9" y="521.5" width="3" height="6.5" rx="0.6" fill="#dedede" stroke="#9a9a9a" stroke-width="0.4"/><circle cx="398.4" cy="532" r="3.3" fill="none" stroke="#d0d0d0" stroke-width="1.8"/><rect x="412.2" y="532.3" width="7" height="3" rx="0.6" fill="#dedede" stroke="#9a9a9a" stroke-width="0.4"/><circle cx="408" cy="533.8" r="3.3" fill="none" stroke="#d0d0d0" stroke-width="1.8"/><rect x="431.90000000000003" y="666.0" width="7" height="3" rx="0.6" fill="#dedede" stroke="#9a9a9a" stroke-width="0.4"/><circle cx="443.1" cy="667.5" r="3.3" fill="none" stroke="#d0d0d0" stroke-width="1.8"/><rect x="493.7" y="666.0" width="7" height="3" rx="0.6" fill="#dedede" stroke="#9a9a9a" stroke-width="0.4"/><circle cx="489.5" cy="667.5" r="3.3" fill="none" stroke="#d0d0d0" stroke-width="1.8"/></g>
<g>
<defs>
<linearGradient id="boltg" x1="0" y1="0" x2="0" y2="1">
<stop offset="0" stop-color="#e2c486"/><stop offset="0.5" stop-color="#d6ae62"/><stop offset="1" stop-color="#c0964a"/>
</linearGradient>
</defs>
<path d="M445 563 H435 V592.7 M447.4 565.5 H437.2 V592.7" fill="none" stroke="#7a7a7a" stroke-width="0.5"/>
<path d="M443 561 L446.5 563.5 L443 566" fill="none" stroke="#555" stroke-width="0.4"/>
<rect x="432.3" y="592.7" width="10.7" height="4.4" fill="#e4e0d8" stroke="#a8a49c" stroke-width="0.4"/>
<text transform="translate(431.8,589.5) rotate(-90)" font-family="Liberation Sans" font-size="2.9" font-weight="bold" fill="#333" textLength="28" lengthAdjust="spacingAndGlyphs">Shielded wire</text>
<rect x="441" y="539.5" width="25.8" height="12.8" rx="2" fill="url(#boltg)"/>
<rect x="441" y="573.8" width="25.8" height="12.6" rx="2" fill="url(#boltg)"/>
<g stroke="#a88450" stroke-width="0.6"><line x1="441.5" y1="543.5" x2="446" y2="543.5"/><line x1="441.5" y1="546" x2="446" y2="546"/><line x1="441.5" y1="548.5" x2="446" y2="548.5"/>
<line x1="441.5" y1="577.8" x2="446" y2="577.8"/><line x1="441.5" y1="580.3" x2="446" y2="580.3"/><line x1="441.5" y1="582.8" x2="446" y2="582.8"/></g>
<rect x="451.3" y="539" width="12.1" height="47.4" rx="1.5" fill="#e0b232"/>
<rect x="451.3" y="539" width="2" height="47.4" fill="#c89a22"/>
<path d="M455 546.5 l2.2 -2.2 l2.2 2.2 h-1.3 v1.5 h-1.8 v-1.5z" fill="#1a1a1a"/>
<path d="M455 579.5 l2.2 2.2 l2.2 -2.2 h-1.3 v-1.5 h-1.8 v1.5z" fill="#1a1a1a"/>
<circle cx="457.1" cy="552.9" r="2.8" fill="#e8c890" stroke="#8a6418" stroke-width="0.9"/>
<circle cx="457.1" cy="573.8" r="2.8" fill="#e8c890" stroke="#8a6418" stroke-width="0.9"/>
<rect x="454.7" y="559.7" width="7.8" height="6.8" fill="#6aaa70"/>
<rect x="456" y="561" width="1.5" height="1.5" fill="#2a6a3a"/><rect x="459.5" y="561" width="1.5" height="1.5" fill="#2a6a3a"/>
<rect x="447.4" y="557.7" width="4.4" height="11.7" fill="#f0eadc" stroke="#b8b0a0" stroke-width="0.4"/>
<rect x="427.8" y="600" width="22.4" height="39" rx="1.5" fill="#28282a"/>
<rect x="429" y="601" width="20" height="37" rx="1" fill="none" stroke="#444" stroke-width="0.5"/>
<rect x="433.8" y="604" width="13.4" height="27" fill="#3a9a58"/>
<rect x="435.5" y="607" width="6" height="10" fill="#1e3a26"/>
<rect x="436.5" y="620" width="8" height="1" fill="#1e5a30"/><rect x="436.5" y="624" width="8" height="1" fill="#1e5a30"/>
<rect x="430" y="605" width="1.2" height="22" fill="#8a8a8a"/>
<g fill="#e6e6e6"><circle cx="432.7" cy="635.2" r="1.4"/><circle cx="436.6" cy="635.2" r="1.4"/><circle cx="440.5" cy="635.2" r="1.4"/><circle cx="444.4" cy="635.2" r="1.4"/></g>
</g>
<g>
<defs>
<radialGradient id="knobg" cx="0.5" cy="0.55" r="0.6">
<stop offset="0" stop-color="#f04040"/><stop offset="0.7" stop-color="#e02626"/><stop offset="1" stop-color="#b81a1a"/>
</radialGradient>
</defs>
<path d="M454 650 H479 L481 652 V679 Q481 681.5 478.5 681.5 H454 Q451.5 681.5 451.5 679 V652Z" fill="#2f2f35"/>
<circle cx="453.6" cy="672" r="1.4" fill="#101012"/><circle cx="479.3" cy="672" r="1.4" fill="#101012"/>
<rect x="465.8" y="670" width="1.2" height="4" fill="#141416"/>
<ellipse cx="466.7" cy="665.4" rx="11" ry="3.2" fill="#2d7a3c"/>
<path d="M454.3 658 Q454.3 650 460 647 L464.5 643.6 Q466.7 642.4 468.9 643.6 L473.4 647 Q479.2 650 479.1 658 Q478.6 665 466.7 665.6 Q454.8 665 454.3 658Z" fill="url(#knobg)"/>
<g stroke="#b01c1c" stroke-width="0.8" fill="none"><path d="M459 655 Q460 660 462 663"/><path d="M474.5 655 Q473.5 660 471.5 663"/><path d="M466.7 656 V664"/></g>
<path d="M461.5 649.5 Q461.5 645.5 466.7 643.3 Q471.9 645.5 471.9 649.5 Q471.5 654.5 466.7 655.2 Q461.9 654.5 461.5 649.5Z" fill="#f2f2f2"/>
<rect x="464" y="648.5" width="5.4" height="1" fill="#9aa"/>
<path d="M466 652.5 h1.4 l-0.7 1.2z" fill="#333"/>
</g>
<g font-family="Liberation Sans" font-size="15.3" fill="#1a1a1a">
<text x="3.4" y="12.76" textLength="108.64" lengthAdjust="spacingAndGlyphs">SOLAR PANEL</text>
<text x="300.6" y="31.05" textLength="178.75" lengthAdjust="spacingAndGlyphs">CHARGE CONTROLLER</text>
<text x="285.6" y="210.66" textLength="40.3" lengthAdjust="spacingAndGlyphs">FUSE</text>
<text x="523.2" y="65.76" textLength="69.0" lengthAdjust="spacingAndGlyphs">DC LOAD</text>
<text x="543.2" y="419.55" textLength="67.16" lengthAdjust="spacingAndGlyphs">AC LOAD</text>
<text x="323.0" y="647.96" textLength="72.64" lengthAdjust="spacingAndGlyphs">BATTERY</text>
<text x="470.2" y="561.06" textLength="47.97" lengthAdjust="spacingAndGlyphs">Battery</text>
<text x="470.4" y="579.75" textLength="50.52" lengthAdjust="spacingAndGlyphs">Monitor</text>
<text x="599.6" y="637.96" textLength="78.58" lengthAdjust="spacingAndGlyphs">INVERTER</text>
<text x="429.2" y="699.15" textLength="72.64" lengthAdjust="spacingAndGlyphs">BATTERY</text>
<text x="435.2" y="717.15" textLength="61.84" lengthAdjust="spacingAndGlyphs">SWITCH</text>
</g>
</svg>
</body></html>
